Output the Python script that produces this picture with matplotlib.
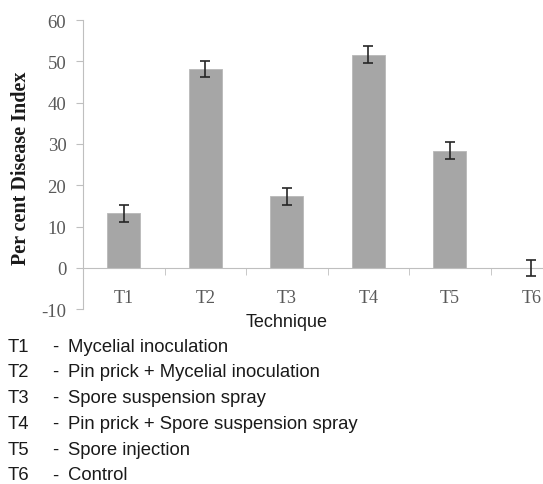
import numpy as np
import matplotlib
matplotlib.use("Agg")
import matplotlib.pyplot as plt

plt.rcParams["axes.unicode_minus"] = False

# data
codes = ["T1", "T2", "T3", "T4", "T5", "T6"]
pdi = [13.2, 48.1, 17.3, 51.6, 28.4, 0.0]
pdi_err = [2.1, 2.0, 2.1, 2.0, 2.0, 2.0]
descriptions = [
    "Mycelial inoculation",
    "Pin prick + Mycelial inoculation",
    "Spore suspension spray",
    "Pin prick + Spore suspension spray",
    "Spore injection",
    "Control",
]

W, H = 543, 485
fig = plt.figure(figsize=(W / 100, H / 100), dpi=100)

# axes runs past the right edge, like the cropped original
ax = fig.add_axes([83 / W, (H - 310.3) / H, 489 / W, 289.3 / H])

x = np.arange(len(codes))
ax.bar(x, pdi, width=0.4, color="#a6a6a6", edgecolor="#b8b8b8", linewidth=0.6, zorder=2)
ax.errorbar(x, pdi, yerr=pdi_err, fmt="none", ecolor="#262626",
            elinewidth=1.2, capsize=3.5, capthick=1.2, zorder=3)

ax.set_xlim(-0.5, 5.5)
ax.set_ylim(-10, 60)
ax.set_yticks(range(-10, 61, 10))

# spines
for s in ["top", "right"]:
    ax.spines[s].set_visible(False)
ax.spines["left"].set_color("#bfbfbf")
ax.spines["bottom"].set_color("#bfbfbf")
ax.spines["bottom"].set_position(("data", 0))

serif = "Liberation Serif"
tick_col = "#595959"

ax.tick_params(axis="y", direction="out", length=5, color="#bfbfbf",
               pad=7, labelsize=13.5, labelcolor=tick_col)
for lab in ax.get_yticklabels():
    lab.set_family(serif)

# category labels without marks, boundary marks between categories
ax.set_xticks(x)
ax.set_xticklabels(codes)
ax.tick_params(axis="x", which="major", length=0, pad=15, labelsize=13, labelcolor=tick_col)
for lab in ax.get_xticklabels():
    lab.set_family(serif)
ax.set_xticks(np.arange(0.5, 5.6, 1.0), minor=True)
ax.tick_params(axis="x", which="minor", direction="out", length=5, color="#bfbfbf")

fig.text(21 / W, 1 - 168 / H, "Per cent Disease Index", rotation=90,
         ha="center", va="center", fontsize=14.5, fontweight="bold",
         family=serif, color="#1a1a1a")

sans = "Liberation Sans"
fig.text(287 / W, 1 - 323 / H, "Technique", ha="center", va="center",
         fontsize=13, family=sans, color="#1a1a1a")

row_y = 347
for code, desc in zip(codes, descriptions):
    yy = 1 - row_y / H
    fig.text(8 / W, yy, code, ha="left", va="center", fontsize=13.3, family=sans, color="#1a1a1a")
    fig.text(52 / W, yy, "-", ha="left", va="center", fontsize=13.3, family=sans, color="#1a1a1a")
    fig.text(68 / W, yy, desc, ha="left", va="center", fontsize=13.3, family=sans, color="#1a1a1a")
    row_y += 25.8

fig.savefig("out.png", dpi=100)
